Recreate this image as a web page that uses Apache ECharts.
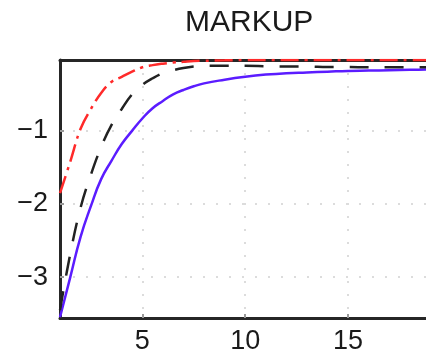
<!DOCTYPE html>
<html>
<head>
<meta charset="utf-8">
<script src="https://cdn.jsdelivr.net/npm/echarts@6/dist/echarts.min.js"></script>
<style>
html,body{margin:0;padding:0;background:#fff;overflow:hidden;}
#c{width:426px;height:360px;}
</style>
</head>
<body>
<div id="c"></div>
<script>
var titleText = 'MARKUP';
var xs = [1, 1.5, 2, 2.5, 3, 3.5, 4, 4.5, 5, 5.5, 6, 6.5, 7, 7.5, 8, 9, 10, 11, 12, 13, 14, 15, 16, 17, 18, 19, 20];
var blueVals = [-3.55, -3.0, -2.45, -2.03, -1.66, -1.41, -1.18, -1.0, -0.83, -0.69, -0.59, -0.5, -0.44, -0.39, -0.35, -0.3, -0.26, -0.23, -0.21, -0.2, -0.19, -0.18, -0.175, -0.17, -0.165, -0.16, -0.16];
var blackVals = [-3.45, -2.68, -2.05, -1.6, -1.22, -0.92, -0.7, -0.5, -0.37, -0.28, -0.21, -0.17, -0.14, -0.12, -0.11, -0.11, -0.11, -0.115, -0.12, -0.12, -0.125, -0.125, -0.13, -0.13, -0.13, -0.13, -0.13];
var redVals = [-1.85, -1.42, -0.97, -0.7, -0.48, -0.33, -0.26, -0.19, -0.13, -0.1, -0.08, -0.065, -0.055, -0.045, -0.04, -0.035, -0.03, -0.03, -0.03, -0.03, -0.03, -0.03, -0.03, -0.03, -0.03, -0.03, -0.03];

function pairs(v) { return xs.map(function (x, i) { return [x, v[i]]; }); }

var chart = echarts.init(document.getElementById('c'), null, {renderer: 'canvas', width: 426, height: 360});
var fontFam = '"Liberation Sans", Arial, sans-serif';
var axisLineStyle = {color: '#262626', width: 3};
var gridLine = {show: true, showMinLine: false, showMaxLine: false, lineStyle: {color: '#dcdcdc', width: 2, type: [2, 11]}};
chart.setOption({
  animation: false,
  backgroundColor: '#fff',
  title: {
    text: titleText,
    left: 180, top: 3,
    textStyle: {fontFamily: fontFam, fontSize: 30, fontWeight: 'normal', color: '#1a1a1a'}
  },
  grid: {left: 60, top: 60, width: 391, height: 258, outerBoundsMode: 'none', containLabel: false},
  xAxis: [{
    type: 'value', min: 1, max: 20, splitNumber: 4, position: 'bottom',
    axisLine: {show: true, onZero: false, lineStyle: axisLineStyle},
    axisTick: {show: true, inside: true, length: 4, lineStyle: {color: '#999', width: 2}},
    axisLabel: {showMinLabel: false, showMaxLabel: false, margin: 10, fontFamily: fontFam, fontSize: 27, color: '#1a1a1a'},
    splitLine: gridLine
  }, {
    type: 'value', min: 1, max: 20, position: 'top',
    axisLine: {show: true, onZero: false, lineStyle: axisLineStyle},
    axisTick: {show: false}, axisLabel: {show: false}, splitLine: {show: false}
  }],
  yAxis: {
    type: 'value', min: -3.56, max: -0.03, splitNumber: 3,
    axisLine: {show: true, onZero: false, lineStyle: axisLineStyle},
    axisTick: {show: true, inside: true, length: 4, lineStyle: {color: '#999', width: 2}},
    axisLabel: {showMinLabel: false, showMaxLabel: false, margin: 12, fontFamily: fontFam, fontSize: 27, color: '#1a1a1a',
      formatter: function (v) { return String(v).replace('-', '\u2212'); }},
    splitLine: gridLine
  },
  series: [
    {type: 'line', data: pairs(blueVals), smooth: 0.5, showSymbol: false, symbol: 'none', z: 3,
     lineStyle: {color: '#5b1cff', width: 2.5}},
    {type: 'line', data: pairs(blackVals), smooth: 0.4, showSymbol: false, symbol: 'none', z: 4,
     lineStyle: {color: '#222', width: 2.5, type: [19, 16]}},
    {type: 'line', data: pairs(redVals), smooth: 0.4, showSymbol: false, symbol: 'none', z: 5,
     lineStyle: {color: '#ff2a2a', width: 2.5, type: [18, 6, 3, 6]}}
  ]
});
</script>
</body>
</html>
